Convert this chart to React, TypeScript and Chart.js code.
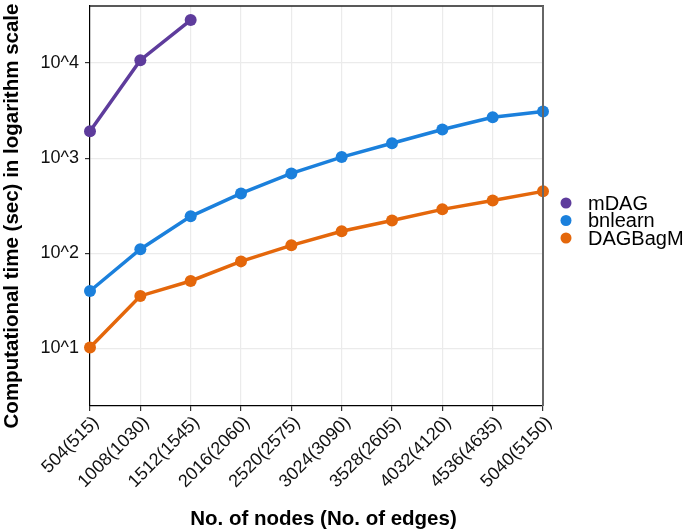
import React, { useEffect, useRef } from "react";
import { Chart, registerables } from "chart.js";

Chart.register(...registerables);

const categories = [
  "504(515)", "1008(1030)", "1512(1545)", "2016(2060)", "2520(2575)",
  "3024(3090)", "3528(2605)", "4032(4120)", "4536(4635)", "5040(5150)",
];
const mDAG = [1920, 10700, 28300];
const bnlearn = [40, 110, 244, 425, 690, 1025, 1435, 2000, 2690, 3100];
const DAGBagM = [10.2, 35.5, 51, 82, 121, 170, 221, 289, 359, 447];
const yTicks = [10, 100, 1000, 10000];
const seriesNames = ["mDAG", "bnlearn", "DAGBagM"];
const seriesColors = ["#5e3c9c", "#1b80dc", "#e4670b"];
const xTitle = "No. of nodes (No. of edges)";
const yTitle = "Computational time (sec) in logarithm scale";

const FONT = "'Liberation Sans', Arial, Helvetica, sans-serif";

const frameAndLegend = {
  id: "frameAndLegend",
  afterDraw(chart: any) {
    const { ctx, chartArea } = chart;
    ctx.save();
    // top border
    ctx.strokeStyle = "#222";
    ctx.lineWidth = 1.5;
    ctx.beginPath();
    ctx.moveTo(chartArea.left, chartArea.top);
    ctx.lineTo(chartArea.right + 1, chartArea.top);
    ctx.stroke();
    // right border
    ctx.strokeStyle = "#666";
    ctx.lineWidth = 2;
    ctx.beginPath();
    ctx.moveTo(chartArea.right, chartArea.top);
    ctx.lineTo(chartArea.right, chartArea.bottom);
    ctx.stroke();
    // axis titles
    ctx.fillStyle = "#000";
    ctx.font = `bold 20.5px ${FONT}`;
    ctx.textAlign = "center";
    ctx.textBaseline = "middle";
    ctx.fillText(xTitle, (chartArea.left + chartArea.right) / 2 + 7, 519);
    ctx.save();
    ctx.translate(12.5, 216);
    ctx.rotate(-Math.PI / 2);
    ctx.fillText(yTitle, 0, 0);
    ctx.restore();
    // legend
    const ds = chart.data.datasets;
    ctx.font = `20px ${FONT}`;
    ctx.textBaseline = "middle";
    ctx.textAlign = "left";
    ds.forEach((d: any, i: number) => {
      const y = 203 + i * 17.5;
      ctx.fillStyle = d.borderColor;
      ctx.beginPath();
      ctx.arc(566, y, 5.5, 0, Math.PI * 2);
      ctx.fill();
      ctx.fillStyle = "#000";
      ctx.fillText(d.label, 588, y + 1);
    });
    ctx.restore();
  },
};

export default function App() {
  const ref = useRef<HTMLCanvasElement>(null);
  useEffect(() => {
    document.body.style.margin = "0";
    const mk = (i: number, data: number[]) => ({
      label: seriesNames[i],
      data,
      borderColor: seriesColors[i],
      backgroundColor: seriesColors[i],
      borderWidth: 3.5,
      pointRadius: 6,
      pointHoverRadius: 6,
      pointBorderWidth: 0,
      tension: 0,
    });
    const chart = new Chart(ref.current!, {
      type: "line",
      data: {
        labels: categories,
        datasets: [mk(0, mDAG), mk(1, bnlearn), mk(2, DAGBagM)],
      },
      plugins: [frameAndLegend],
      options: {
        animation: false,
        responsive: false,
        layout: { padding: { top: 4, right: 142, left: 0, bottom: 0 } },
        plugins: { legend: { display: false }, tooltip: { enabled: false } },
        scales: {
          x: {
            type: "category",
            offset: false,
            afterFit: (s: any) => { s.height = 126; s.paddingLeft = 0; s.paddingRight = 0; },
            grid: { color: "#ebebeb", lineWidth: 1.2, tickColor: "#333", tickLength: 5 },
            border: { display: true, color: "#000", width: 1.2 },
            ticks: {
              minRotation: 45,
              maxRotation: 45,
              autoSkip: false,
              color: "#111",
              padding: 1,
              labelOffset: 6,
              font: { family: FONT, size: 18 },
            },
            title: { display: false },
          },
          y: {
            type: "logarithmic",
            min: 2.47,
            max: 39800,
            afterFit: (s: any) => { s.width = 90; s.paddingTop = 0; s.paddingBottom = 0; },
            afterBuildTicks: (s: any) => { s.ticks = yTicks.map((v) => ({ value: v })); },
            grid: { color: "#ebebeb", lineWidth: 1.2, tickColor: "#333", tickLength: 5 },
            border: { display: true, color: "#000", width: 1.2 },
            ticks: {
              color: "#111",
              padding: 6,
              font: { family: FONT, size: 18 },
              callback: (v: any) => "10^" + Math.round(Math.log10(Number(v))),
            },
            title: { display: false },
          },
        },
      },
    } as any);
    return () => chart.destroy();
  }, []);
  return (
    <div style={{ position: "absolute", left: 0, top: 0, width: 685, height: 532 }}>
      <canvas ref={ref} width={685} height={532} />
    </div>
  );
}
